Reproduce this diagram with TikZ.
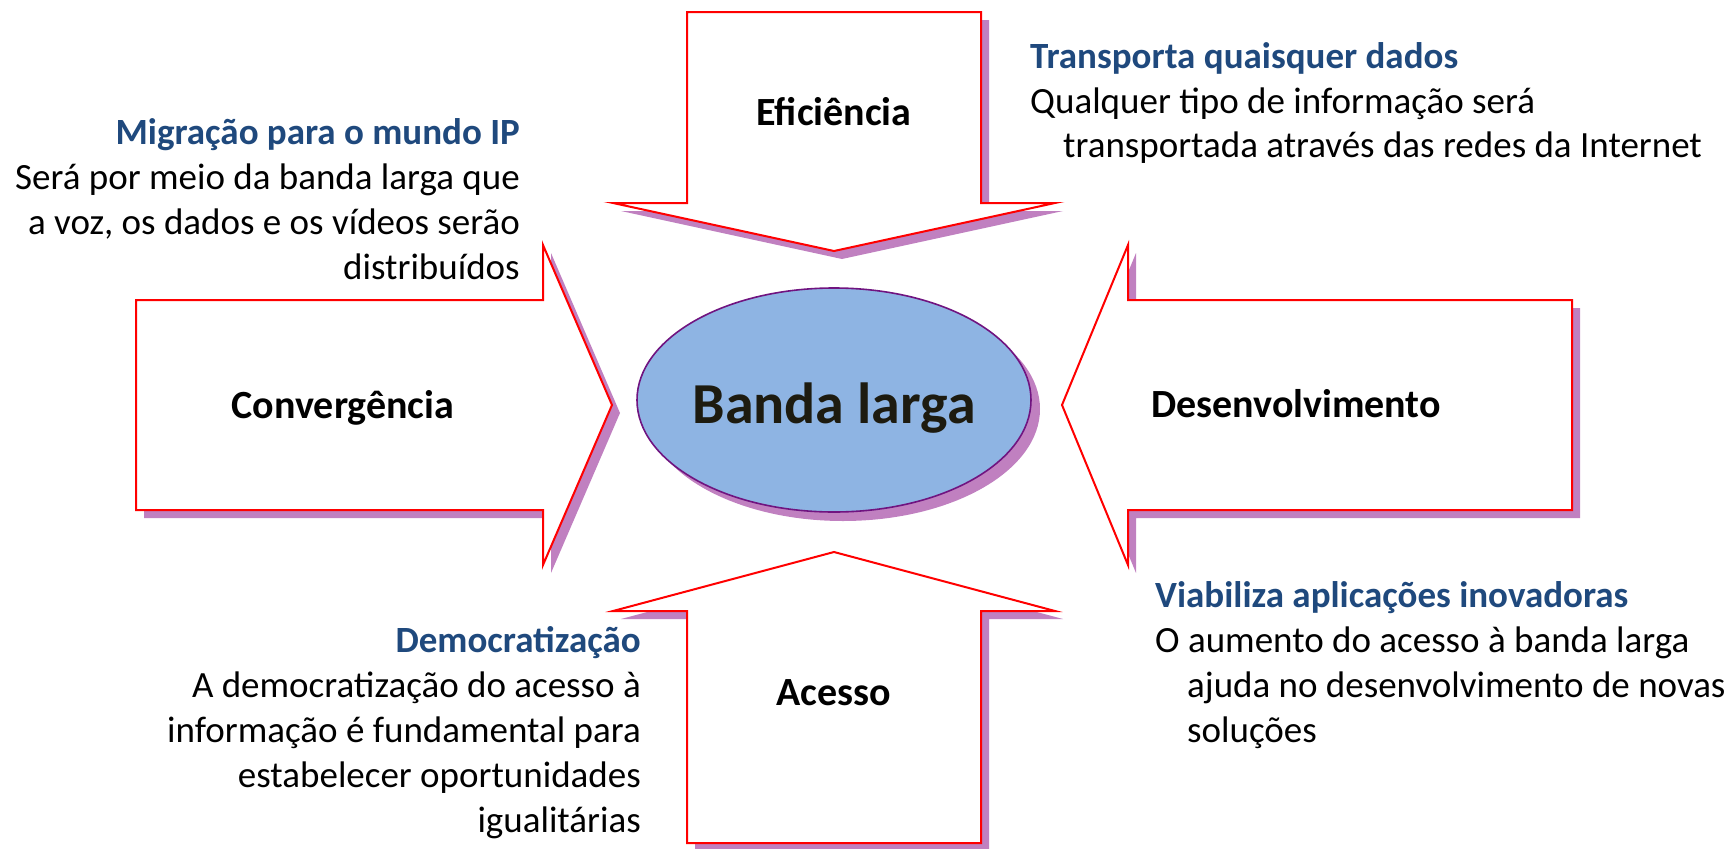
\documentclass[tikz,border=0pt]{standalone}
\usepackage{fontspec}
\setmainfont{Carlito}
\usetikzlibrary{shapes.geometric}
\definecolor{shadowc}{RGB}{192,128,192}
\definecolor{headblue}{RGB}{31,73,125}
\definecolor{ellfill}{RGB}{142,180,227}
\definecolor{ellline}{RGB}{112,20,128}
\definecolor{coretext}{RGB}{29,27,16}
\newcommand\ArrTop{(687,12) -- (981,12) -- (981,203) -- (1055,203) -- (834,251) -- (613,203) -- (687,203) -- cycle}
\newcommand\ArrLeft{(136,300) -- (543,300) -- (543,245) -- (612,405) -- (543,565) -- (543,510) -- (136,510) -- cycle}
\newcommand\ArrRight{(1572,300) -- (1128,300) -- (1128,245) -- (1062,405) -- (1128,565) -- (1128,510) -- (1572,510) -- cycle}
\newcommand\ArrBottom{(687,843) -- (687,611) -- (613,611) -- (834,552) -- (1055,611) -- (981,611) -- (981,843) -- cycle}
\begin{document}
\begin{tikzpicture}[x=1pt,y=-1pt,
  arrowshape/.style={draw=red, line width=2pt, fill=white, line join=miter},
  shadowfill/.style={fill=shadowc},
  lbl/.style={font=\fontsize{40}{48}\selectfont\bfseries, anchor=base, inner sep=0pt},
  headtxt/.style={font=\fontsize{37}{45}\selectfont\bfseries, text=headblue, inner sep=0pt},
  bodytxt/.style={font=\fontsize{37}{45}\selectfont, inner sep=0pt},
]
\useasboundingbox (0,0) rectangle (1733,849);
% shadows
\begin{scope}[shift={(8,8)}]
  \fill[shadowfill] \ArrTop;
  \fill[shadowfill] \ArrLeft;
  \fill[shadowfill] \ArrRight;
  \fill[shadowfill] \ArrBottom;
\end{scope}
\fill[shadowfill] (843,409) ellipse [x radius=197, y radius=112];
% arrows
\draw[arrowshape] \ArrTop;
\draw[arrowshape] \ArrLeft;
\draw[arrowshape] \ArrRight;
\draw[arrowshape] \ArrBottom;
% centre
\node[ellipse, draw=ellline, line width=1.6pt, fill=ellfill, minimum width=394pt, minimum height=224pt, inner sep=0pt] (core) at (834,400) {};
\node[font=\fontsize{58}{66}\selectfont\bfseries, text=coretext, anchor=base] (coretxt) at (834,423) {Banda larga};
% arrow labels
\node[lbl] (eff) at (834,125) {Eficiência};
\node[lbl] (conv) at (343,418) {Convergência};
\node[lbl] (dev) at (1296,417) {Desenvolvimento};
\node[lbl] (acc) at (834,705) {Acesso};
% top-left text
\node[headtxt, anchor=base east] (tla) at (520,144) {Migração para o mundo IP};
\node[bodytxt, anchor=base east] (tlb) at (520,189) {Será por meio da banda larga que};
\node[bodytxt, anchor=base east] (tlc) at (520,234) {a voz, os dados e os vídeos serão};
\node[bodytxt, anchor=base east] (tld) at (520,279) {distribuídos};
% top-right text
\node[headtxt, anchor=base west] (tra) at (1030,68) {Transporta quaisquer dados};
\node[bodytxt, anchor=base west] (trb) at (1030,113) {Qualquer tipo de informação será};
\node[bodytxt, anchor=base west] (trc) at (1063,157) {transportada através das redes da Internet};
% bottom-left text
\node[headtxt, anchor=base east] (bla) at (641,652) {Democratização};
\node[bodytxt, anchor=base east] (blb) at (641,697) {A democratização do acesso à};
\node[bodytxt, anchor=base east] (blc) at (641,742) {informação é fundamental para};
\node[bodytxt, anchor=base east] (bld) at (641,787) {estabelecer oportunidades};
\node[bodytxt, anchor=base east] (ble) at (641,832) {igualitárias};
% bottom-right text
\node[headtxt, anchor=base west] (bra) at (1155,607) {Viabiliza aplicações inovadoras};
\node[bodytxt, anchor=base west] (brb) at (1155,652) {O aumento do acesso à banda larga};
\node[bodytxt, anchor=base west] (brc) at (1187,697) {ajuda no desenvolvimento de novas};
\node[bodytxt, anchor=base west] (brd) at (1187,742) {soluções};
\end{tikzpicture}
\end{document}
